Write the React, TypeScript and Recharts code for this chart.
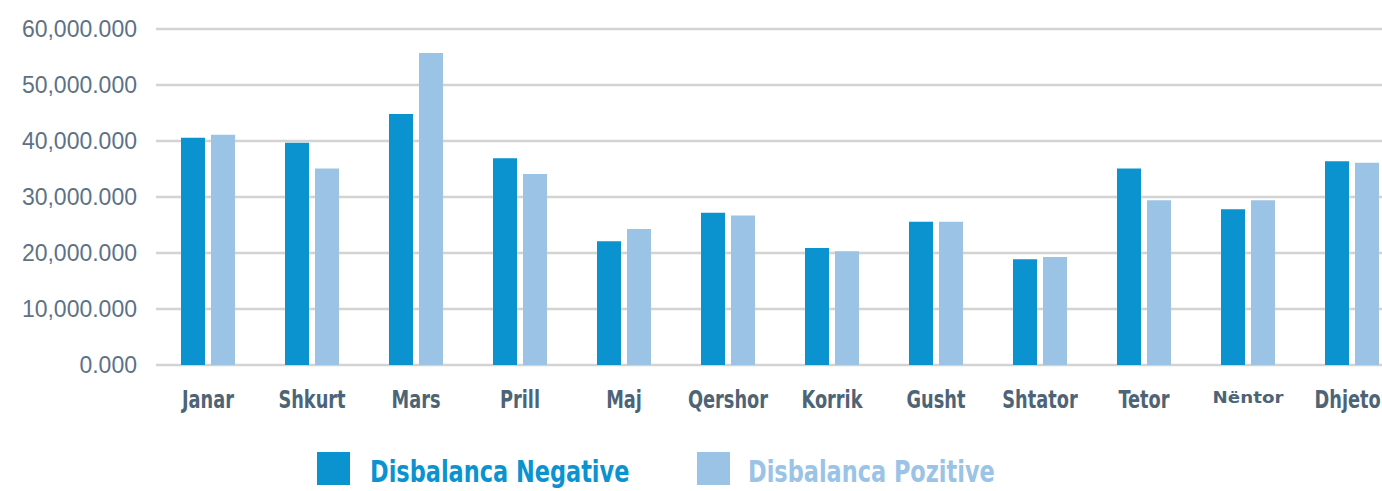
import { BarChart, Bar, XAxis, YAxis, CartesianGrid, Legend } from 'recharts';

const MONTHS = ['Janar', 'Shkurt', 'Mars', 'Prill', 'Maj', 'Qershor', 'Korrik', 'Gusht', 'Shtator', 'Tetor', 'Nëntor', 'Dhjetor'];
const NEGATIVE = [40600, 39700, 44800, 36900, 22100, 27200, 20900, 25600, 18900, 35100, 27800, 36400];
const POSITIVE = [41100, 35100, 55700, 34100, 24300, 26700, 20300, 25600, 19300, 29400, 29400, 36100];
const Y_TICKS = [0, 10000, 20000, 30000, 40000, 50000, 60000];

const DARK = '#0a93cf';
const LIGHT = '#9ac3e6';
const COND = '"DejaVu Sans Condensed", "DejaVu Sans", sans-serif';

const data = MONTHS.map((m, i) => ({ month: m, neg: NEGATIVE[i], pos: POSITIVE[i] }));

const fmt = (v: number) =>
  v.toLocaleString('en-US', { minimumFractionDigits: 3, maximumFractionDigits: 3 });

// the source uses a condensed face; squeeze DejaVu horizontally to match
function MonthTick({ x, y, payload }: any) {
  const odd = payload.value === 'Nëntor';
  return (
    <g transform={`translate(${x},${y}) scale(${odd ? 1.14 : 0.79},1)`}>
      <text
        x={0}
        y={0}
        dy={odd ? 30 : 35}
        textAnchor="middle"
        fill="#4d6477"
        fontFamily={odd ? '"DejaVu Sans", sans-serif' : COND}
        fontWeight="bold"
        fontSize={odd ? 16 : 25}
      >
        {payload.value}
      </text>
    </g>
  );
}

function LegendBox() {
  const items = [
    { label: 'Disbalanca Negative', color: DARK, box: 317, text: 370 },
    { label: 'Disbalanca Pozitive', color: LIGHT, box: 697, text: 748 },
  ];
  return (
    <svg width={1420} height={60} style={{ display: 'block' }}>
      {items.map(it => (
        <g key={it.label}>
          <rect x={it.box} y={21} width={33} height={33} fill={it.color} />
          <g transform={`translate(${it.text},51) scale(0.805,1)`}>
            <text x={0} y={0} fill={it.color} fontFamily={COND} fontWeight="bold" fontSize={31}>
              {it.label}
            </text>
          </g>
        </g>
      ))}
    </svg>
  );
}

export default function App() {
  return (
    <div style={{ position: 'fixed', left: 0, top: 0, width: 1382, height: 491, overflow: 'hidden', background: '#fff' }}>
      <BarChart
        width={1420}
        height={491}
        data={data}
        margin={{ top: 29, right: 16, left: 0, bottom: 0 }}
        barSize={24}
        barGap={6}
      >
        <CartesianGrid horizontal vertical={false} stroke="#d3d3d3" strokeWidth={2.5} />
        <XAxis
          dataKey="month"
          axisLine={false}
          tickLine={false}
          height={66}
          tick={<MonthTick />}
          interval={0}
        />
        <YAxis
          width={156}
          domain={[0, 60000]}
          ticks={Y_TICKS}
          axisLine={false}
          tickLine={false}
          tickSize={0}
          tickMargin={19}
          tickFormatter={fmt}
          tick={{ fill: '#5c7285', fontSize: 23, fontFamily: '"Liberation Sans", Arial, sans-serif' }}
        />
        <Legend verticalAlign="bottom" content={<LegendBox />} wrapperStyle={{ left: 0, width: 1420 }} />
        <Bar dataKey="neg" name="Disbalanca Negative" fill={DARK} isAnimationActive={false} />
        <Bar dataKey="pos" name="Disbalanca Pozitive" fill={LIGHT} isAnimationActive={false} />
      </BarChart>
    </div>
  );
}
